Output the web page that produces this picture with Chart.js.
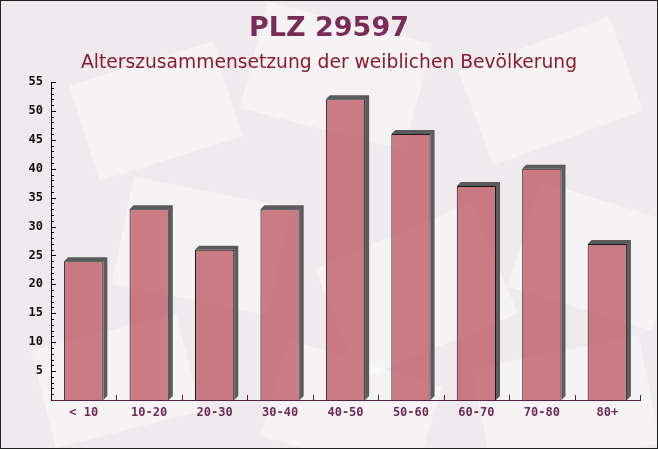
<!DOCTYPE html>
<html>
<head>
<meta charset="utf-8">
<script src="https://cdn.jsdelivr.net/npm/chart.js@4"></script>
<style>
  html, body { margin: 0; padding: 0; background: #eeeaed; }
  #wrap { width: 656px; height: 447px; border: 1px solid #222; position: relative; }
</style>
</head>
<body>
<div id="wrap"><canvas id="myChart" width="656" height="447"></canvas></div>
<script>
// data
const categories = ['< 10', '10-20', '20-30', '30-40', '40-50', '50-60', '60-70', '70-80', '80+'];
const femaleCounts = [24, 33, 26, 33, 52, 46, 37, 40, 27];
const titleText = 'PLZ 29597';
const subtitleText = 'Alterszusammensetzung der weiblichen Bevölkerung';

// faint envelope-like shapes in the background
const paperPlugin = {
  id: 'paper',
  beforeDraw(chart) {
    const ctx = chart.ctx
    const shapes = [
      [80, 60, 150, 100, -0.3], [250, 20, 170, 110, 0.25], [470, 40, 160, 100, -0.35],
      [120, 190, 160, 110, 0.2], [330, 230, 170, 120, -0.4], [520, 200, 150, 110, 0.3],
      [40, 330, 150, 100, -0.25], [270, 360, 160, 100, 0.3], [480, 350, 170, 110, -0.2]
    ]
    ctx.save()
    ctx.fillStyle = 'rgba(255,255,255,0.45)'
    shapes.forEach(s => {
      ctx.save()
      ctx.translate(s[0] + s[2] / 2, s[1] + s[3] / 2)
      ctx.rotate(s[4])
      ctx.fillRect(-s[2] / 2, -s[3] / 2, s[2], s[3])
      ctx.restore()
    })
    ctx.restore()
  }
}

// 3d shadow behind the bars
const shadowPlugin = {
  id: 'barShadow',
  beforeDatasetsDraw(chart) {
    const ctx = chart.ctx
    const d = 4
    chart.getDatasetMeta(0).data.forEach(bar => {
      const l = bar.x - bar.width / 2
      const r = bar.x + bar.width / 2
      ctx.save()
      ctx.fillStyle = '#5b5b5b'
      ctx.beginPath()
      ctx.moveTo(l, bar.y)
      ctx.lineTo(l + d, bar.y - d)
      ctx.lineTo(r + d, bar.y - d)
      ctx.lineTo(r + d, bar.base - d)
      ctx.lineTo(r, bar.base)
      ctx.lineTo(r, bar.y)
      ctx.closePath()
      ctx.fill()
      ctx.restore()
    })
  }
}

// small ticks on the axes + titles
const axisPlugin = {
  id: 'axisTicks',
  afterDraw(chart) {
    const ctx = chart.ctx
    const y = chart.scales.y
    const x = chart.scales.x
    ctx.save()
    ctx.strokeStyle = '#000'
    ctx.lineWidth = 1
    for (let v = 1; v <= 55; v++) {
      const py = Math.round(y.getPixelForValue(v)) + 0.5
      ctx.beginPath()
      ctx.moveTo(y.right, py)
      ctx.lineTo(y.right + (v % 5 === 0 ? 5 : 3), py)
      ctx.stroke()
    }
    ctx.strokeStyle = '#5a2040'
    const step = x.getPixelForValue(1) - x.getPixelForValue(0)
    for (let i = 0; i < categories.length; i++) {
      const px = Math.round(x.getPixelForValue(i) + step / 2) + 0.5
      ctx.beginPath()
      ctx.moveTo(px, x.top)
      ctx.lineTo(px, x.top - 5)
      ctx.stroke()
    }
    ctx.textAlign = 'center'
    ctx.textBaseline = 'middle'
    ctx.fillStyle = '#7a2c58'
    ctx.font = 'bold 27px "DejaVu Sans"'
    ctx.fillText(titleText, chart.width / 2, 28)
    ctx.fillStyle = '#8a1a2e'
    ctx.font = '18.7px "DejaVu Sans"'
    ctx.fillText(subtitleText, chart.width / 2, 62)
    ctx.restore()
  }
}

const ctx = document.getElementById('myChart').getContext('2d')
const myChart = new Chart(ctx, {
  type: 'bar',
  data: {
    labels: categories,
    datasets: [{
      data: femaleCounts,
      backgroundColor: 'rgba(192, 92, 102, 0.8)',
      borderColor: '#1a1a1a',
      borderWidth: 1,
      borderSkipped: 'bottom',
      categoryPercentage: 0.6,
      barPercentage: 1
    }]
  },
  options: {
    responsive: false,
    animation: false,
    layout: { padding: { top: 81, right: 17, left: 0, bottom: 0 } },
    plugins: {
      legend: { display: false },
      tooltip: { enabled: false }
    },
    scales: {
      x: {
        grid: { display: false, drawTicks: false },
        border: { color: '#5a2040', width: 1 },
        ticks: {
          color: '#6e2a52',
          padding: 6,
          font: { family: 'DejaVu Sans Mono', weight: 'bold', size: 12 }
        },
        afterFit: s => { s.height = 48 }
      },
      y: {
        min: 0,
        max: 55,
        grid: { display: false, drawTicks: false },
        border: { color: '#000', width: 1 },
        ticks: {
          stepSize: 5,
          color: '#111',
          padding: 8,
          font: { family: 'DejaVu Sans Mono', weight: 'bold', size: 12 },
          callback: v => v === 0 ? '' : v
        },
        afterFit: s => { s.width = 50 }
      }
    }
  },
  plugins: [paperPlugin, shadowPlugin, axisPlugin]
})
</script>
</body>
</html>
